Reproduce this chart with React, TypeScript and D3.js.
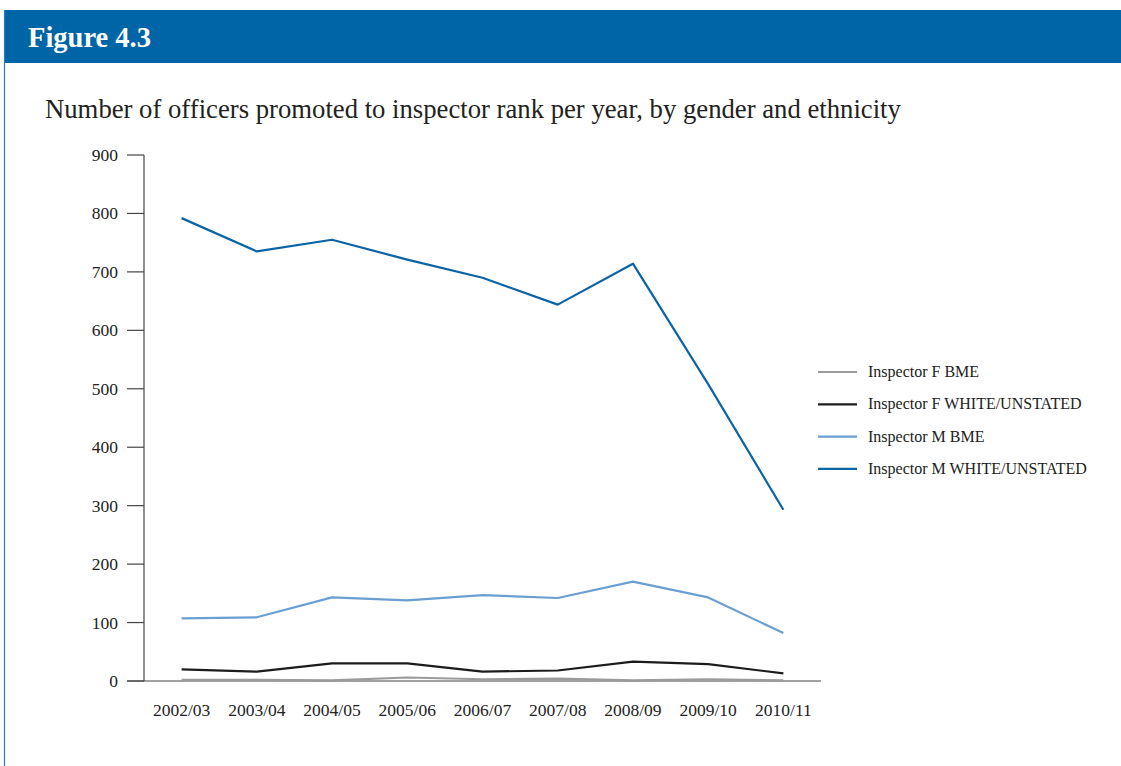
import React from "react";
import * as d3 from "d3";

const categories = ["2002/03", "2003/04", "2004/05", "2005/06", "2006/07", "2007/08", "2008/09", "2009/10", "2010/11"];
const fBme = [2, 2, 1, 6, 3, 4, 1, 3, 1];
const fWhite = [20, 16, 30, 30, 16, 18, 33, 29, 13];
const mBme = [107, 109, 143, 138, 147, 142, 170, 143, 82];
const mWhite = [792, 735, 755, 721, 690, 644, 714, 508, 293];
const yTicks = [0, 100, 200, 300, 400, 500, 600, 700, 800, 900];

const seriesNames = ["Inspector F BME", "Inspector F WHITE/UNSTATED", "Inspector M BME", "Inspector M WHITE/UNSTATED"];
const seriesValues = [fBme, fWhite, mBme, mWhite];
const seriesColors = ["#9b9b9b", "#1c1c1c", "#6b9fd2", "#0a64a6"];

const FONT = "'Liberation Serif', 'Times New Roman', serif";

export default function App() {
  const W = 1121, H = 766;
  const x0 = 144, x1 = 821, yTop = 155, yBot = 681;
  const x = d3.scalePoint<string>().domain(categories).range([x0, x1]).padding(0.5);
  const y = d3.scaleLinear().domain([0, 900]).range([yBot, yTop]);
  const line = d3.line<number>().x((_, i) => x(categories[i]) as number).y((d) => y(d));

  return (
    <div style={{ position: "absolute", left: 0, top: 0 }}>
      <svg width={W} height={H} style={{ display: "block", background: "#fff" }}>
        <rect x={4} y={10} width={W - 4} height={53} fill="#0065a6" />
        <line x1={4.5} y1={10} x2={4.5} y2={H} stroke="#2a7cc0" strokeWidth={1.2} />
        <text x={28} y={47} fill="#fff" fontFamily={FONT} fontWeight="bold" fontSize={28.5}>Figure 4.3</text>
        <text x={45} y={118} fill="#222" fontFamily={FONT} fontSize={26.7}>Number of officers promoted to inspector rank per year, by gender and ethnicity</text>

        {/* axes */}
        <line x1={x0} y1={yTop} x2={x0} y2={yBot} stroke="#444" strokeWidth={1.2} />
        <line x1={127} y1={yBot} x2={x1} y2={yBot} stroke="#444" strokeWidth={1.2} />
        {yTicks.map((t) => (
          <g key={t}>
            <line x1={127} x2={x0} y1={y(t)} y2={y(t)} stroke="#444" strokeWidth={1.2} />
            <text x={118} y={y(t) + 6} textAnchor="end" fontFamily={FONT} fontSize={17.5} fill="#222">{t}</text>
          </g>
        ))}
        {categories.map((c) => (
          <text key={c} x={x(c) as number} y={716} textAnchor="middle" fontFamily={FONT} fontSize={17.5} fill="#222">{c}</text>
        ))}

        {seriesValues.map((vals, i) => (
          <path key={i} d={line(vals) || ""} fill="none" stroke={seriesColors[i]} strokeWidth={2.2} strokeLinejoin="round" />
        ))}

        {seriesNames.map((n, i) => {
          const ly = 372 + i * 32.3;
          return (
            <g key={n}>
              <line x1={818} x2={857} y1={ly} y2={ly} stroke={seriesColors[i]} strokeWidth={2.2} />
              <text x={868} y={ly + 5} fontFamily={FONT} fontSize={16} fill="#222">{n}</text>
            </g>
          );
        })}
      </svg>
    </div>
  );
}
